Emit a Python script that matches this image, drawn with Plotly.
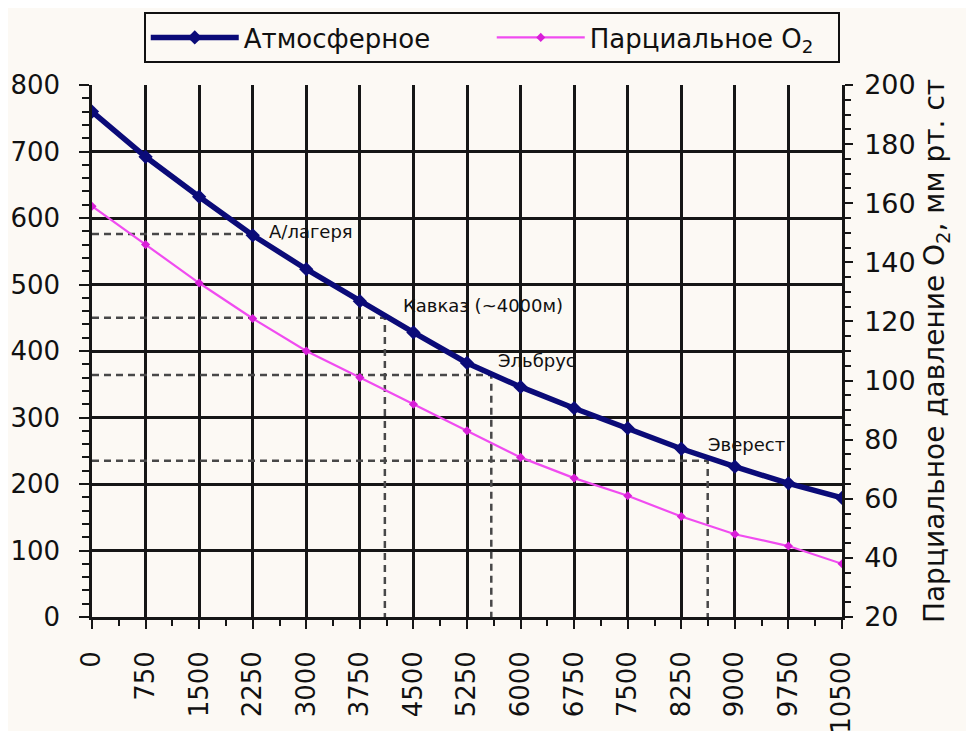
import plotly.graph_objects as go

# ---- data ----
altitude = [0, 750, 1500, 2250, 3000, 3750, 4500, 5250, 6000, 6750, 7500, 8250, 9000, 9750, 10500]
atmospheric = [760, 692, 632, 574, 523, 475, 428, 382, 346, 314, 284, 253, 226, 201, 179]
partial_o2 = [159, 146, 133, 121, 110, 101, 92, 83, 74, 67, 61, 54, 48, 44, 38]

x_tick_labels = [str(v) for v in altitude]
left_ticks = [0, 100, 200, 300, 400, 500, 600, 700, 800]
right_ticks = [20, 40, 60, 80, 100, 120, 140, 160, 180, 200]

ref_names = ["А/лагеря", "Кавказ (~4000м)", "Эльбрус", "Эверест"]
ref_alt = [2250, 4100, 5590, 8620]
ref_pressure = [576, 450, 364, 235]
ref_vertical = [False, True, True, True]
label_x = [2450, 4330, 5650, 8590]
label_y = [579, 469, 386, 260]

FONT = "DejaVu Sans"
BG = "#fcf9f4"
GRID = "#161616"

fig = go.Figure()

for rx, ry, vert in zip(ref_alt, ref_pressure, ref_vertical):
    xs = [0, rx, rx] if vert else [0, rx]
    ys = [ry, ry, 0] if vert else [ry, ry]
    fig.add_trace(go.Scatter(
        x=xs, y=ys, mode="lines", showlegend=False, hoverinfo="skip",
        line=dict(color="#484848", width=2.5, dash="7px,5px"),
    ))

fig.add_trace(go.Scatter(
    x=altitude, y=atmospheric, name="Атмосферное", mode="lines+markers",
    line=dict(color="#0b0b78", width=5.5),
    marker=dict(symbol="diamond", size=11, color="#0b0b78"),
))
fig.add_trace(go.Scatter(
    x=altitude, y=partial_o2, name="Парциальное O<sub>2</sub>", mode="lines+markers",
    yaxis="y2",
    line=dict(color="#f04cf0", width=2.2),
    marker=dict(symbol="diamond", size=7, color="#d81fd8"),
))

for name, lx, ly in zip(ref_names, label_x, label_y):
    fig.add_annotation(
        x=lx, y=ly, text=name, showarrow=False, xanchor="left", yanchor="middle",
        font=dict(family=FONT, size=18, color="#111111"),
    )

fig.update_layout(
    width=974, height=731,
    margin=dict(l=84, r=140, t=77, b=122),
    paper_bgcolor=BG, plot_bgcolor=BG,
    font=dict(family=FONT, color="#111111"),
    showlegend=True,
    legend=dict(
        orientation="h", xref="paper", yref="container",
        x=0.533, y=0.9945, xanchor="center", yanchor="top",
        bgcolor=BG, bordercolor="#111111", borderwidth=2,
        font=dict(family=FONT, size=26, color="#111111"),
        itemwidth=88, entrywidth=243, entrywidthmode="pixels",
    ),
    xaxis=dict(
        range=[0, 10500], tickmode="array", tickvals=altitude, ticktext=x_tick_labels,
        tickangle=-90, showgrid=True, gridcolor=GRID, gridwidth=2.5, zeroline=False,
        showline=True, linecolor=GRID, linewidth=2.5, automargin=False,
        ticks="outside", ticklen=9, tickwidth=2, tickcolor=GRID,
        minor=dict(ticks="outside", tick0=0, dtick=375, ticklen=6, tickwidth=2, tickcolor=GRID, showgrid=False),
        tickfont=dict(family=FONT, size=26, color="#111111"),
        ticklabelstandoff=12,
    ),
    yaxis=dict(
        range=[0, 800], tickmode="array", tickvals=left_ticks,
        showgrid=True, gridcolor=GRID, gridwidth=2.5, zeroline=False,
        showline=True, linecolor=GRID, linewidth=2.5, automargin=False,
        ticks="outside", ticklen=10, tickwidth=2, tickcolor=GRID,
        minor=dict(ticks="outside", tick0=0, dtick=20, ticklen=7, tickwidth=2, tickcolor=GRID, showgrid=False),
        tickfont=dict(family=FONT, size=26, color="#111111"),
        ticklabelstandoff=14,
    ),
    yaxis2=dict(
        overlaying="y", side="right", range=[20, 200], tickmode="array", tickvals=right_ticks,
        showgrid=False, zeroline=False,
        showline=True, linecolor=GRID, linewidth=2.5, automargin=False,
        ticks="outside", ticklen=8, tickwidth=2, tickcolor=GRID,
        minor=dict(ticks="outside", tick0=0, dtick=5, ticklen=6, tickwidth=2, tickcolor=GRID),
        tickfont=dict(family=FONT, size=27, color="#111111"),
        ticklabelstandoff=6,
        title=dict(text="Парциальное давление O<sub>2</sub>, мм рт. ст",
                   font=dict(family=FONT, size=28, color="#111111"), standoff=10),
    ),
)

fig.write_html("out.html")
